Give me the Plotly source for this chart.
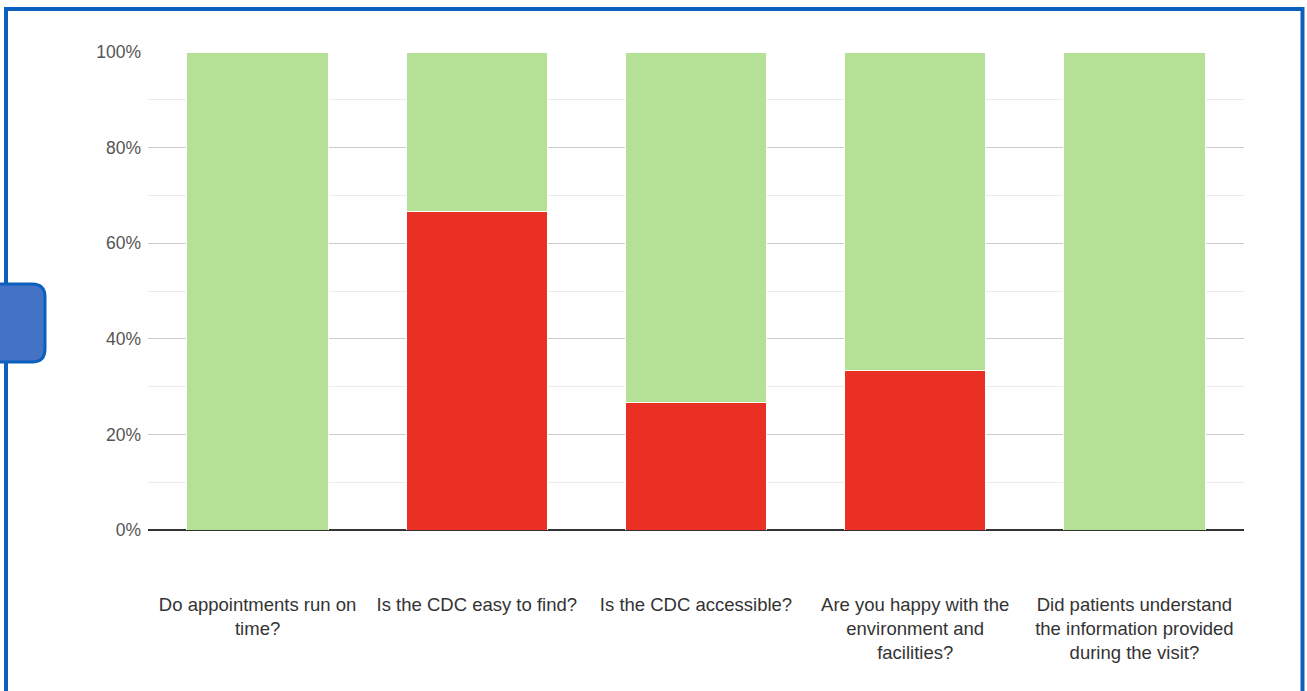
import plotly.graph_objects as go

# Survey questions (x-axis categories, wrapped onto several lines)
questions = [
    "Do appointments run on<br>time?",
    "Is the CDC easy to find?",
    "Is the CDC accessible?",
    "Are you happy with the<br>environment and<br>facilities?",
    "Did patients understand<br>the information provided<br>during the visit?",
]

# Share of responses per question (percent)
no_share = [0, 66.7, 26.7, 33.3, 0]
yes_share = [100, 33.3, 73.3, 66.7, 100]

y_ticks = [0, 20, 40, 60, 80, 100]
y_tick_labels = ["0%", "20%", "40%", "60%", "80%", "100%"]

GREEN = "#b5e197"
RED = "#ea3024"
FRAME = "#0b60bd"

fig = go.Figure()
fig.add_trace(go.Bar(
    x=questions, y=no_share, name="No",
    marker=dict(color=RED, line=dict(color="white", width=1)),
))
fig.add_trace(go.Bar(
    x=questions, y=yes_share, name="Yes",
    marker=dict(color=GREEN, line=dict(color="white", width=1)),
))

# plot area in pixels: x 148..1244, y 52..530
L, R, T, B = 148, 1244, 52, 530
W, H = R - L, B - T


def px(x):
    return (x - L) / W


def py(y):
    return (B - y) / H


# outer blue frame
shapes = [
    dict(type="rect", xref="paper", yref="paper",
         x0=px(6), x1=px(1302.5), y0=py(740), y1=py(9),
         line=dict(color=FRAME, width=4), fillcolor="rgba(0,0,0,0)", layer="above"),
]

# rounded tab on the left edge
tx0, tx1, ty0, ty1, r = -20, 45, 284, 362, 13
rx, ry = r / W, r / H
path = (
    f"M {px(tx0)},{py(ty0)} "
    f"L {px(tx1) - rx},{py(ty0)} "
    f"Q {px(tx1)},{py(ty0)} {px(tx1)},{py(ty0) - ry} "
    f"L {px(tx1)},{py(ty1) + ry} "
    f"Q {px(tx1)},{py(ty1)} {px(tx1) - rx},{py(ty1)} "
    f"L {px(tx0)},{py(ty1)} Z"
)
shapes.append(dict(type="path", xref="paper", yref="paper", path=path,
                   fillcolor="#4472c4", line=dict(color=FRAME, width=3), layer="above"))

fig.update_layout(
    barmode="stack",
    bargap=0.355,
    width=1307, height=691,
    margin=dict(l=L, r=1307 - R, t=T, b=691 - B),
    paper_bgcolor="white",
    plot_bgcolor="white",
    showlegend=False,
    font=dict(family="Liberation Sans, Arial, sans-serif", size=17, color="#333333"),
    shapes=shapes,
    xaxis=dict(
        showgrid=False,
        ticks="",
        ticklabelstandoff=61,
        tickfont=dict(size=18.5, color="#333333"),
        showline=False,
        zeroline=False,
    ),
    yaxis=dict(
        range=[0, 100],
        tickvals=y_ticks,
        ticktext=y_tick_labels,
        tickfont=dict(size=17.5, color="#555555"),
        ticklabelstandoff=6,
        showgrid=True,
        gridcolor="#cccccc",
        gridwidth=1,
        minor=dict(dtick=10, showgrid=True, gridcolor="#ebebeb", gridwidth=1),
        zeroline=True,
        zerolinecolor="#333333",
        zerolinewidth=1.5,
        showline=False,
    ),
)

fig.write_html("out.html")
